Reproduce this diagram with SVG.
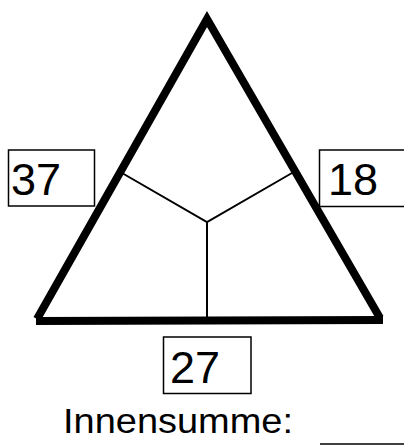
<svg xmlns="http://www.w3.org/2000/svg" width="404" height="445" viewBox="0 0 404 445">
  <style>
    .thick { fill: none; stroke: #000; stroke-width: 8; stroke-linejoin: miter; stroke-miterlimit: 10; }
    .thin { fill: none; stroke: #000; stroke-width: 2; }
    .box { fill: none; stroke: #000; stroke-width: 1.5; }
    .num { font-family: "Liberation Sans", Arial, sans-serif; font-size: 45px; fill: #000; }
    .lbl { font-family: "Liberation Sans", Arial, sans-serif; font-size: 35px; fill: #000; }
  </style>
  <rect width="404" height="445" fill="#fff"/>
  <g id="connectors">
    <path class="thin" d="M122,173 L207,222 L292,173"/>
    <path class="thin" d="M207,222 L207,320"/>
  </g>
  <g id="triangle">
    <path class="thick" d="M37,319 L207,19 L380,318"/>
    <path class="thick" d="M36,321 L383,320"/>
  </g>
  <g id="box-37">
    <rect class="box" x="8.5" y="150" width="86" height="56"/>
    <text class="num" x="11" y="195">37</text>
  </g>
  <g id="box-18">
    <rect class="box" x="319.5" y="150" width="90" height="56.5"/>
    <text class="num" x="328" y="194.5">18</text>
  </g>
  <g id="box-27">
    <rect class="box" x="163.5" y="337" width="87.5" height="56.5"/>
    <text class="num" x="170" y="383">27</text>
  </g>
  <g id="innensumme">
    <text class="lbl" x="63" y="433" textLength="230" lengthAdjust="spacingAndGlyphs">Innensumme:</text>
    <path class="thin" d="M320,444 L404,444" style="stroke-width:1.5"/>
  </g>
</svg>
